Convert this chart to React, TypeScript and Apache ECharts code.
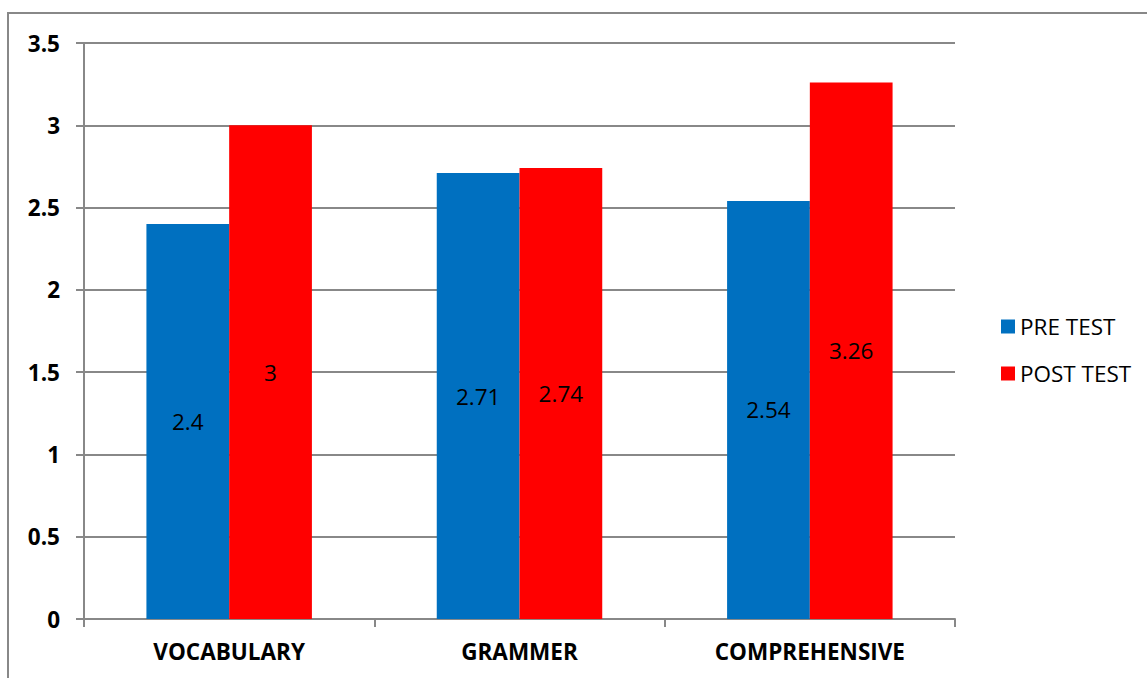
import React, { useEffect, useRef } from "react";
import * as echarts from "echarts";

const categories = ["VOCABULARY", "GRAMMER", "COMPREHENSIVE"];
const preTest = [2.4, 2.71, 2.54];
const postTest = [3, 2.74, 3.26];
const seriesNames = ["PRE TEST", "POST TEST"];

const FONT = "'Open Sans', Lato, sans-serif";
const FS = 22.5;

export default function App() {
  const ref = useRef<HTMLDivElement>(null);
  useEffect(() => {
    const chart = echarts.init(ref.current!, null, { renderer: "svg" });
    const label = {
      show: true,
      position: "inside",
      color: "#000",
      fontSize: FS,
      fontFamily: FONT,
    };
    chart.setOption({
      animation: false,
      backgroundColor: "#fff",
      graphic: [
        {
          type: "rect",
          shape: { x: 8, y: 13, width: 1200, height: 700 },
          style: { fill: "none", stroke: "#888", lineWidth: 2 },
          silent: true,
        },
      ],
      grid: { left: 84, top: 43, right: 192, bottom: 59 },
      legend: {
        orient: "vertical",
        left: 996,
        top: 310,
        itemWidth: 14,
        itemHeight: 14,
        itemGap: 24,
        icon: "rect",
        textStyle: { fontSize: FS, fontFamily: FONT, color: "#000" },
        data: seriesNames,
      },
      xAxis: {
        type: "category",
        data: categories,
        axisLine: { lineStyle: { color: "#888", width: 2 } },
        axisTick: { show: true, length: 8, lineStyle: { color: "#888", width: 2 } },
        axisLabel: {
          fontSize: FS,
          fontWeight: "bold",
          fontFamily: FONT,
          color: "#000",
          margin: 21,
        },
      },
      yAxis: {
        type: "value",
        min: 0,
        max: 3.5,
        interval: 0.5,
        axisLine: { show: true, lineStyle: { color: "#888", width: 2 } },
        axisTick: { show: true, length: 8, lineStyle: { color: "#888", width: 2 } },
        splitLine: { lineStyle: { color: "#888", width: 2 } },
        axisLabel: {
          fontSize: FS,
          fontWeight: "bold",
          fontFamily: FONT,
          color: "#000",
          margin: 24,
        },
      },
      series: [
        {
          name: seriesNames[0],
          type: "bar",
          data: preTest,
          itemStyle: { color: "#0070C0" },
          barGap: "0%",
          barCategoryGap: "43%",
          label,
        },
        {
          name: seriesNames[1],
          type: "bar",
          data: postTest,
          itemStyle: { color: "#FF0000" },
          barGap: "0%",
          barCategoryGap: "43%",
          label,
        },
      ],
    });
    return () => chart.dispose();
  }, []);
  return <div ref={ref} style={{ width: 1147, height: 678, position: "absolute", left: 0, top: 0 }} />;
}
